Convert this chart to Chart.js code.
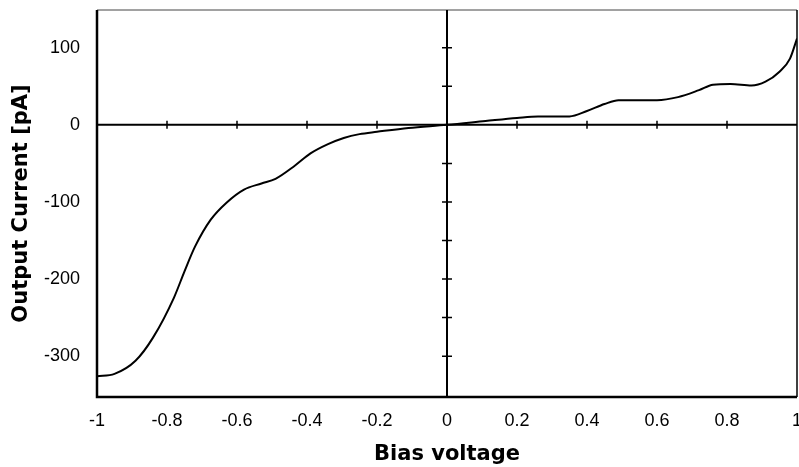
<!doctype html>
<html lang="en">
  <head>
    <meta charset="UTF-8" />
    <title>Output current vs bias voltage</title>
    <script src="https://cdn.jsdelivr.net/npm/chart.js"></script>
    <style>
      body {
        margin: 0;
        background: #fff;
      }
      #wrap {
        width: 799px;
        height: 467px;
      }
    </style>
  </head>
  <body>
    <div id="wrap"><canvas id="ivChart" width="799" height="467"></canvas></div>

    <script>
      const biasV = [
        -1, -0.95, -0.89, -0.84, -0.78, -0.75, -0.72, -0.675, -0.63, -0.58,
        -0.53, -0.49, -0.435, -0.39, -0.34, -0.295, -0.25, -0.2, -0.11, 0,
        0.11, 0.2, 0.26, 0.35, 0.4, 0.45, 0.49, 0.55, 0.6, 0.66, 0.72, 0.76,
        0.81, 0.87, 0.91, 0.95, 0.98, 1.0,
      ];
      const currentPA = [
        -326, -323, -306, -276, -224, -190, -158, -123, -101, -84, -76, -70,
        -53, -37, -25, -17, -12, -9, -4, 0, 5, 9, 11, 11, 18, 27, 32, 32, 32,
        36, 45, 52, 53, 51, 56, 69, 86, 112,
      ];

      const yLabelTicks = [-300, -200, -100, 0, 100];
      const xLabelTicks = [-1, -0.8, -0.6, -0.4, -0.2, 0, 0.2, 0.4, 0.6, 0.8, 1];
      // tick marks on the axes crossing at the origin
      const originXTicks = [-1, -0.8, -0.6, -0.4, -0.2, 0.2, 0.4, 0.6, 0.8];
      const originYTicks = [100, 50, -50, -100, -150, -200, -250, -300];

      const points = biasV.map((v, i) => ({ x: v, y: currentPA[i] }));

      // frame around the plot and the cross of axes through (0, 0)
      const axesPlugin = {
        id: 'axesCross',
        beforeDatasetsDraw(chart) {
          const { ctx, chartArea: a, scales } = chart;
          const x0 = scales.x.getPixelForValue(0);
          const y0 = scales.y.getPixelForValue(0);
          ctx.save();

          // frame
          ctx.lineWidth = 1;
          ctx.strokeStyle = '#444';
          ctx.beginPath();
          ctx.moveTo(a.left, a.top);
          ctx.lineTo(a.right, a.top);
          ctx.stroke();
          ctx.strokeStyle = '#000';
          ctx.lineWidth = 1.5;
          ctx.beginPath();
          ctx.moveTo(a.right, a.top);
          ctx.lineTo(a.right, a.bottom);
          ctx.stroke();
          ctx.lineWidth = 2.5;
          ctx.beginPath();
          ctx.moveTo(a.left, a.top);
          ctx.lineTo(a.left, a.bottom);
          ctx.lineTo(a.right, a.bottom);
          ctx.stroke();

          // axes through origin
          ctx.lineWidth = 2;
          ctx.beginPath();
          ctx.moveTo(a.left, y0);
          ctx.lineTo(a.right, y0);
          ctx.moveTo(x0, a.top);
          ctx.lineTo(x0, a.bottom);
          ctx.stroke();

          ctx.lineWidth = 1.5;
          ctx.beginPath();
          originXTicks.forEach((v) => {
            const px = scales.x.getPixelForValue(v);
            ctx.moveTo(px, y0 - 4);
            ctx.lineTo(px, y0 + 4);
          });
          originYTicks.forEach((v) => {
            const py = scales.y.getPixelForValue(v);
            ctx.moveTo(x0 - 5, py);
            ctx.lineTo(x0 + 5, py);
          });
          ctx.stroke();
          ctx.restore();
        },
      };

      const noEdgePadding = (s) => {
        s.paddingTop = 0;
        s.paddingBottom = 0;
        s.paddingLeft = 0;
        s.paddingRight = 0;
      };

      new Chart(document.getElementById('ivChart'), {
        type: 'scatter',
        data: {
          datasets: [
            {
              data: points,
              showLine: true,
              borderColor: '#000',
              borderWidth: 2,
              pointRadius: 0,
              cubicInterpolationMode: 'monotone',
            },
          ],
        },
        options: {
          responsive: false,
          animation: false,
          devicePixelRatio: 1,
          layout: { padding: { top: 10, right: 2, left: 0, bottom: 0 } },
          plugins: { legend: { display: false }, tooltip: { enabled: false } },
          scales: {
            x: {
              type: 'linear',
              min: -1,
              max: 1,
              afterBuildTicks: (s) => {
                s.ticks = xLabelTicks.map((v) => ({ value: v }));
              },
              afterFit: (s) => {
                s.height = 70;
                noEdgePadding(s);
              },
              grid: { display: false, drawTicks: false },
              border: { display: false },
              ticks: {
                padding: 13,
                color: '#000',
                font: { family: 'Liberation Sans', size: 18 },
                maxRotation: 0,
                callback: (v) => String(v),
              },
              title: {
                display: true,
                text: 'Bias voltage',
                color: '#000',
                font: { family: 'DejaVu Sans', size: 21, weight: 'bold' },
                padding: { top: 0, bottom: 0 },
              },
            },
            y: {
              type: 'linear',
              min: -353,
              max: 149,
              afterBuildTicks: (s) => {
                s.ticks = yLabelTicks.map((v) => ({ value: v }));
              },
              afterFit: (s) => {
                s.width = 97;
                noEdgePadding(s);
              },
              grid: { display: false, drawTicks: false },
              border: { display: false },
              ticks: {
                padding: 17,
                color: '#000',
                font: { family: 'Liberation Sans', size: 18 },
                callback: (v) => String(v),
              },
              title: {
                display: true,
                text: 'Output Current [pA]',
                color: '#000',
                font: { family: 'DejaVu Sans', size: 21, weight: 'bold' },
                padding: { top: 9, bottom: 0 },
              },
            },
          },
        },
        plugins: [axesPlugin],
      });
    </script>
  </body>
</html>
